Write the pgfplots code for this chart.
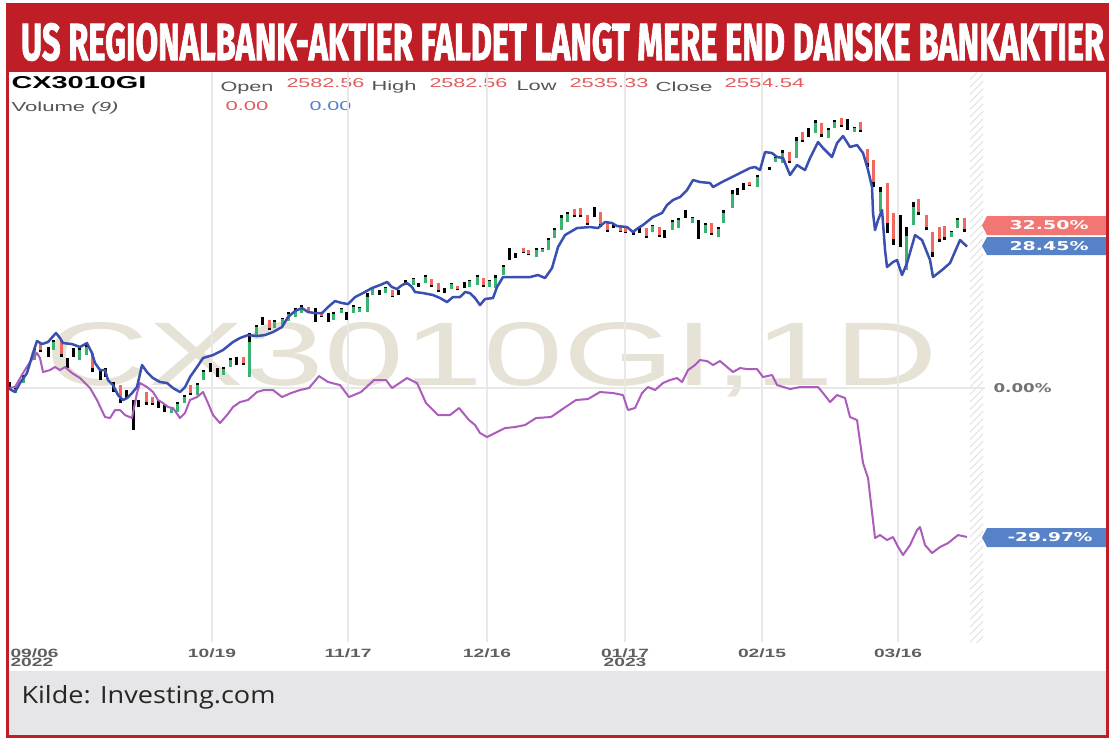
\documentclass[border=0pt]{standalone}
\usepackage{pgfplots}
\pgfplotsset{compat=1.18}
\usepackage{pgfplotstable}
\usepackage{graphicx}
\usepackage{fontspec}
\usetikzlibrary{patterns}
\setmainfont{Liberation Sans}
\newfontfamily\djv{DejaVu Sans}
\newfontfamily\osans{Open Sans}
\newfontfamily\titlefont[FakeBold=2]{Fira Sans}
\newlength\pxu \setlength\pxu{0.4pt}
\definecolor{bannerred}{RGB}{192,30,38}
\definecolor{bluel}{RGB}{58,80,176}
\definecolor{purp}{RGB}{172,92,188}
\definecolor{cgreen}{RGB}{60,178,112}
\definecolor{cred}{RGB}{240,104,94}
\definecolor{boxred}{RGB}{242,118,116}
\definecolor{boxblue}{RGB}{88,130,200}
\definecolor{wmark}{RGB}{230,227,214}
\definecolor{footgray}{RGB}{230,230,232}
\definecolor{gridgray}{RGB}{232,232,232}
\definecolor{hdrgray}{RGB}{85,85,85}
\definecolor{hdrred}{RGB}{226,92,92}
\definecolor{hdrblue}{RGB}{80,130,210}
\definecolor{tickgray}{RGB}{95,95,95}

% CX3010GI daily candles (percent change): x position, high, low, c (1 up, -1 down, 0 neutral)
\pgfplotstableread{
x hi lo c
9 1.21 -0.40 0
15 0.00 -1.01 1
23 2.62 1.01 1
34 8.05 5.63 1
40 9.05 7.24 -1
48 8.25 6.24 0
53 9.66 7.65 1
61 9.66 6.24 -1
67 6.04 4.02 0
73 8.05 6.24 0
79 8.05 5.63 1
86 8.65 6.64 1
92 7.04 3.22 -1
100 3.62 1.61 0
105 4.02 2.21 0
113 1.21 -0.80 0
120 0.60 -3.02 -1
126 -0.40 -2.01 0
133 -2.41 -8.45 0
138 -2.41 -3.82 0
146 -0.80 -3.42 -1
152 -1.81 -3.42 -1
158 -2.41 -4.02 0
164 -3.42 -4.83 0
171 -3.82 -5.03 1
177 -2.82 -4.83 1
184 -1.41 -3.02 1
190 0.60 -1.41 -1
197 1.01 -1.41 1
203 3.62 1.61 1
210 5.03 3.22 0
217 4.02 2.21 0
223 4.23 2.62 1
230 6.04 4.23 1
236 6.24 4.63 0
243 6.24 4.63 -1
249 11.07 2.21 1
256 12.68 10.66 1
262 14.29 12.68 0
269 13.68 11.67 -1
274 13.68 12.07 1
282 14.08 12.68 1
288 15.29 13.48 1
295 16.10 14.29 1
301 16.70 15.09 1
308 16.30 15.29 -1
315 16.10 13.28 0
321 15.29 14.29 -1
328 15.09 13.28 0
333 15.29 13.68 1
341 16.10 15.09 1
346 15.29 13.68 0
353 16.70 15.09 1
359 16.30 15.29 1
367 19.11 15.29 1
372 20.12 18.71 1
379 19.72 18.71 0
385 20.32 19.11 1
392 19.72 18.31 -1
398 19.72 18.71 0
405 21.73 20.72 0
413 22.13 20.72 1
418 21.13 20.32 0
425 22.74 21.13 1
431 21.93 20.32 -1
438 21.13 19.32 -1
444 20.12 19.11 0
451 21.13 19.92 1
457 20.52 19.72 -1
464 21.33 20.12 0
469 21.73 20.32 1
477 22.74 20.72 1
483 22.13 20.32 -1
489 21.73 20.32 1
495 22.74 20.12 1
503 24.75 22.74 1
509 28.17 25.75 0
515 27.16 26.16 0
523 28.17 27.16 -1
528 27.77 26.76 -1
536 28.17 26.36 1
542 28.17 27.36 1
548 30.18 27.77 1
554 32.19 30.18 1
561 34.81 31.79 1
567 35.41 33.40 1
574 36.01 34.41 -1
580 36.22 34.41 -1
587 34.81 32.80 -1
594 36.42 34.41 0
600 35.41 32.39 -1
607 33.40 31.39 -1
613 33.20 32.19 0
620 32.39 31.39 -1
625 32.19 31.19 -1
633 31.79 30.78 0
639 32.19 31.19 0
646 32.19 30.18 -1
652 32.80 31.39 1
659 32.39 30.38 -1
664 31.79 30.18 0
672 33.80 31.79 1
678 34.20 32.19 1
685 35.81 34.20 0
692 34.41 33.20 1
698 33.80 29.98 0
705 33.20 31.19 1
711 33.20 30.78 -1
718 32.39 30.38 1
723 35.81 33.20 1
732 39.84 36.22 1
737 40.24 38.83 0
743 41.25 39.84 0
749 41.45 40.64 -1
757 42.86 40.44 1
769 44.47 43.86 0
775 46.48 45.47 1
782 47.89 45.27 1
789 47.48 45.27 -1
796 50.50 46.28 1
802 51.51 49.50 -1
808 52.31 50.50 0
815 53.92 51.31 1
821 53.32 50.50 -1
828 52.31 50.30 1
834 53.92 52.31 1
841 54.32 52.51 -1
847 54.12 51.91 0
854 52.51 51.51 1
860 53.52 51.51 -1
867 48.09 44.47 -1
873 45.87 40.44 -1
880 40.44 35.41 1
887 41.25 31.19 -1
893 35.21 28.77 -1
900 34.81 28.37 0
906 32.39 23.74 1
913 37.42 32.80 1
918 38.03 34.81 -1
926 34.81 31.79 -1
932 31.39 26.36 -1
939 32.39 29.38 -1
944 32.59 29.78 -1
951 31.59 30.38 1
957 34.20 32.19 1
964 34.20 31.39 -1
}\candles

\pgfplotstableread{
x y
8 0
15 -0.80
20 1.01
27 3.02
33 7.04
37 9.46
42 8.85
48 9.26
56 11.07
60 10.06
63 9.05
72 8.85
80 8.25
87 9.05
92 7.04
95 5.03
100 3.62
105 3.62
108 1.61
113 0.60
118 -1.41
123 -2.41
127 -2.01
132 -1.01
137 0.20
142 4.63
147 3.22
153 2.01
160 1.21
167 1.01
173 0.00
180 -0.80
185 0.20
190 2.21
197 4.23
203 6.04
213 6.64
223 7.65
233 9.26
240 10.06
248 10.66
257 10.46
265 10.66
273 11.27
282 12.27
288 14.29
295 15.49
302 16.10
308 15.29
315 15.09
322 15.09
328 16.30
335 17.50
342 17.10
348 16.90
355 18.31
363 19.11
372 20.12
380 20.72
387 21.33
392 20.32
397 19.92
402 20.72
407 21.13
412 20.32
415 19.32
423 19.11
433 18.71
440 18.11
447 17.30
453 18.31
460 18.31
465 19.32
470 19.11
475 18.11
480 16.70
485 17.91
493 18.11
497 20.32
503 22.33
513 22.33
530 22.33
538 22.74
545 22.13
552 24.14
558 28.37
565 30.78
577 32.19
590 32.39
598 32.19
605 33.40
612 33.20
617 32.59
627 32.39
633 31.39
638 32.19
643 32.80
653 34.41
662 35.21
667 36.82
673 37.83
680 38.43
687 39.84
693 41.85
700 41.45
710 41.25
713 40.44
722 41.45
730 42.25
740 43.26
750 44.26
755 44.47
760 43.86
765 47.48
772 47.28
777 46.48
783 46.28
790 42.86
797 44.87
800 44.47
805 43.86
810 46.28
818 49.50
823 48.29
832 46.48
837 49.29
843 50.70
850 48.49
857 48.89
863 47.28
868 43.86
872 40.44
873 35.21
875 31.79
878 33.80
882 35.81
885 27.77
887 24.35
893 25.35
897 25.75
902 22.74
907 25.15
915 30.78
922 29.78
930 25.75
933 22.33
942 23.74
950 25.15
960 29.78
967 28.45
}\blueline

\pgfplotstableread{
x y
8 0
15 0.20
23 3.02
30 5.23
37 7.04
40 6.04
43 3.22
50 3.62
55 4.23
60 3.62
65 4.23
72 3.02
80 2.01
90 0
97 -2.41
105 -5.83
110 -6.04
115 -4.43
120 -4.43
125 -5.43
132 -6.04
137 -1.01
140 1.01
147 0.20
153 -0.80
158 -2.41
163 -3.02
168 -3.82
173 -4.02
180 -6.04
185 -5.03
190 -2.41
197 -1.81
203 -0.80
208 -3.02
213 -5.43
220 -7.04
227 -5.43
233 -3.82
240 -2.82
248 -2.41
257 -0.80
264 -0.40
273 -0.40
282 -1.81
291 -1.01
300 -0.40
309 0
319 2.41
328 1.21
340 0.60
349 -1.81
361 -0.80
374 1.61
386 1.61
392 0
407 2.01
417 1.01
426 -3.02
438 -5.43
450 -5.43
459 -4.02
469 -6.44
475 -7.44
480 -9.05
487 -9.86
495 -9.05
505 -8.05
515 -7.85
525 -7.44
536 -6.04
551 -5.83
564 -4.02
576 -2.41
588 -2.21
600 -0.80
613 -1.01
623 -1.41
628 -4.43
635 -4.02
642 -1.01
648 0.20
655 -0.40
663 1.01
670 1.61
677 2.01
682 1.21
688 3.62
695 4.63
700 5.63
707 5.43
713 4.63
720 5.43
727 4.23
733 3.22
740 4.02
747 3.82
757 3.82
763 2.21
772 2.62
777 0.60
790 -0.20
800 0.20
818 0.20
823 -1.01
830 -2.82
837 -1.41
845 -2.01
850 -5.83
857 -6.44
863 -15.09
868 -18.11
875 -30.18
880 -29.58
887 -30.58
893 -29.98
897 -31.59
903 -33.60
910 -31.59
917 -28.57
920 -27.97
925 -31.59
932 -33.20
940 -31.99
948 -31.19
958 -29.58
967 -29.97
}\purpleline

\newcommand\tk[1]{\scalebox{1.6}[1]{\fontsize{4.8}{4.8}\selectfont\bfseries #1}}

\begin{document}
\begin{tikzpicture}
\begin{scope}[x=\pxu,y=-\pxu]
\path[use as bounding box] (0,0) rectangle (1115,742);
\fill[white] (0,0) rectangle (1115,742);
% banner
\fill[bannerred] (6,3) rectangle (1109,72);
\node[anchor=base, inner sep=0pt, text=white] at (562.5,60)
  {\resizebox{1083\pxu}{37\pxu}{\titlefont\bfseries US REGIONALBANK-AKTIER FALDET LANGT MERE END DANSKE BANKAKTIER}};
% footer
\fill[footgray] (8,671) rectangle (1107,735);
\node[anchor=base west, inner sep=0pt, text=black!85] at (21,703)
  {\resizebox{254\pxu}{18\pxu}{\osans Kilde: Investing.com}};
% hatch strip
\fill[pattern=north east lines, pattern color=black!12] (970,72) rectangle (983,642);
% watermark
\node[anchor=base west, inner sep=0pt, text=wmark] at (45,385)
  {\resizebox{892\pxu}{63\pxu}{CX3010GI,1D}};
% header
\node[anchor=base west, inner sep=0pt] at (11,88) {\resizebox{135\pxu}{12\pxu}{\bfseries CX3010GI}};
\node[anchor=base west, inner sep=0pt, text=hdrgray] at (220,91) {\resizebox{53\pxu}{9.5\pxu}{Open}};
\node[anchor=base west, inner sep=0pt, text=hdrred] at (286,87) {\resizebox{78\pxu}{9\pxu}{2582.56}};
\node[anchor=base west, inner sep=0pt, text=hdrgray] at (371,90) {\resizebox{45\pxu}{9.5\pxu}{High}};
\node[anchor=base west, inner sep=0pt, text=hdrred] at (429,87) {\resizebox{78\pxu}{9\pxu}{2582.56}};
\node[anchor=base west, inner sep=0pt, text=hdrgray] at (516,90) {\resizebox{40\pxu}{9.5\pxu}{Low}};
\node[anchor=base west, inner sep=0pt, text=hdrred] at (569,87) {\resizebox{79\pxu}{9\pxu}{2535.33}};
\node[anchor=base west, inner sep=0pt, text=hdrgray] at (655,91) {\resizebox{57\pxu}{9.5\pxu}{Close}};
\node[anchor=base west, inner sep=0pt, text=hdrred] at (724,87) {\resizebox{80\pxu}{9\pxu}{2554.54}};
\node[anchor=base west, inner sep=0pt, text=hdrgray] at (11,111) {\resizebox{107\pxu}{9.5\pxu}{Volume \textit{(9)}}};
\node[anchor=base west, inner sep=0pt, text=hdrred] at (225,110) {\resizebox{43\pxu}{9\pxu}{0.00}};
\node[anchor=base west, inner sep=0pt, text=hdrblue] at (309,110) {\resizebox{42\pxu}{9\pxu}{0.00}};
\end{scope}

\begin{axis}[
  at={(3.2pt,-256.8pt)}, anchor=south west,
  scale only axis, width=390.8pt, height=228pt,
  xmin=8, xmax=985, ymin=-51.10, ymax=63.58,
  axis line style={draw=none}, major tick length=0pt,
  xtick={212,348,487,625,762,898},
  xticklabels={\tk{10/19},\tk{11/17},\tk{12/16},\tk{01/17}\\\tk{2023},\tk{02/15},\tk{03/16}},
  extra x ticks={10},
  extra x tick labels={\tk{09/06}\\\tk{2022}},
  extra x tick style={grid=none, xticklabel style={anchor=north west, align=left}},
  xticklabel style={text=tickgray, inner sep=0pt, yshift=-2.4pt, align=center, font=\fontsize{4.8}{3.6}\selectfont},
  xmajorgrids, ymajorgrids,
  grid style={draw=gridgray, line width=0.5pt},
  ytick={0}, yticklabels={\resizebox{58\pxu}{9\pxu}{\djv\bfseries 0.00\%}},
  yticklabel pos=right,
  yticklabel style={anchor=west, inner sep=0pt, xshift=3.2pt, text=black!55},
]
% wicks
\addplot[draw=none, mark=none, forget plot,
  error bars/.cd, y dir=plus, y explicit, error mark=none,
  error bar style={draw=black, line width=1.2pt}]
  table[x=x, y=lo, y error plus expr={\thisrow{hi}-\thisrow{lo}}] {\candles};
% up bodies
\addplot[draw=none, mark=none, forget plot,
  restrict expr to domain={\thisrow{c}}{0.5:1.5},
  error bars/.cd, y dir=plus, y explicit, error mark=none,
  error bar style={draw=cgreen, line width=1.2pt}]
  table[x=x, y=lo, y error plus expr={0.8*(\thisrow{hi}-\thisrow{lo})}] {\candles};
% down bodies
\addplot[draw=none, mark=none, forget plot,
  restrict expr to domain={\thisrow{c}}{-1.5:-0.5},
  error bars/.cd, y dir=minus, y explicit, error mark=none,
  error bar style={draw=cred, line width=1.2pt}]
  table[x=x, y=hi, y error minus expr={0.8*(\thisrow{hi}-\thisrow{lo})}] {\candles};
\addplot[draw=purp, line width=0.8pt, line join=round, mark=none] table[x=x,y=y] {\purpleline};
\addplot[draw=bluel, line width=1pt, line join=round, mark=none] table[x=x,y=y] {\blueline};
\end{axis}

\begin{scope}[x=\pxu,y=-\pxu]
% right value labels
\fill[boxred] (982,225.5) -- (987,216) -- (1108,216) -- (1108,235) -- (987,235) -- cycle;
\node[anchor=base west, inner sep=0pt, text=white] at (1009,229.5) {\resizebox{79\pxu}{9\pxu}{\djv\bfseries 32.50\%}};
\fill[boxblue] (982,246) -- (987,237) -- (1108,237) -- (1108,255) -- (987,255) -- cycle;
\node[anchor=base west, inner sep=0pt, text=white] at (1009,250) {\resizebox{79\pxu}{9\pxu}{\djv\bfseries 28.45\%}};
\fill[boxblue] (982,537.5) -- (987,528) -- (1108,528) -- (1108,547) -- (987,547) -- cycle;
\node[anchor=base west, inner sep=0pt, text=white] at (1007,541.5) {\resizebox{85\pxu}{9\pxu}{\djv\bfseries -29.97\%}};
% frame
\draw[bannerred, line width=3\pxu] (7.5,72) -- (7.5,736) -- (1107.5,736) -- (1107.5,72);
\end{scope}
\end{tikzpicture}
\end{document}
